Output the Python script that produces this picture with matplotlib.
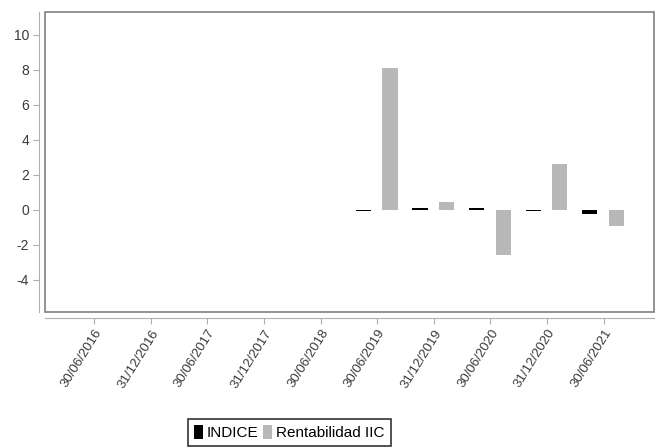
import numpy as np
import matplotlib.pyplot as plt
from matplotlib.patches import Rectangle

fechas = ['30/06/2016', '31/12/2016', '30/06/2017', '31/12/2017', '30/06/2018',
          '30/06/2019', '31/12/2019', '30/06/2020', '31/12/2020', '30/06/2021']
indice = [np.nan, np.nan, np.nan, np.nan, np.nan, -0.04, 0.1, 0.1, -0.04, -0.25]
rentabilidad = [np.nan, np.nan, np.nan, np.nan, np.nan, 8.1, 0.46, -2.57, 2.63, -0.9]

plt.rcParams['font.family'] = ['Liberation Sans', 'DejaVu Sans']
plt.rcParams['axes.unicode_minus'] = False

fig = plt.figure(figsize=(6.62, 4.48), dpi=100)
ax = fig.add_axes([0.068, 0.3036, 0.92, 0.6696])

x = np.arange(len(fechas))
ax.bar(x - 0.245, indice, width=0.27, color='black', label='INDICE')
ax.bar(x + 0.225, rentabilidad, width=0.27, color='#b8b8b8', label='Rentabilidad IIC')

ax.set_xlim(-0.87, 9.89)
ax.set_ylim(-5.83, 11.3)
ax.set_yticks(np.arange(-4, 11, 2))
ax.set_xticks(x)
ax.set_xticklabels(fechas)

# box around the plot area
ax.add_patch(Rectangle((0, 0), 1, 1, transform=ax.transAxes, fill=False,
                       edgecolor='#808080', linewidth=1.2, clip_on=False))
ax.spines['top'].set_visible(False)
ax.spines['right'].set_visible(False)
for s in ['left', 'bottom']:
    ax.spines[s].set_position(('outward', 4))
    ax.spines[s].set_color('#b0b0b0')
ax.tick_params(axis='both', colors='#b0b0b0', length=4, labelsize=10, labelcolor='#3a3a3a')
ax.tick_params(axis='x', pad=3, labelsize=9.5)
plt.setp(ax.get_xticklabels(), rotation=58, ha='right', rotation_mode='anchor')

leg = fig.legend(loc='lower center', bbox_to_anchor=(0.437, 0.004), ncol=2, frameon=True,
                 fancybox=False, edgecolor='black', fontsize=11, handlelength=0.6,
                 handleheight=1.0, handletextpad=0.25, columnspacing=0.3,
                 borderpad=0.4, borderaxespad=0)
leg.get_frame().set_linewidth(1.2)

plt.savefig('out.png')
